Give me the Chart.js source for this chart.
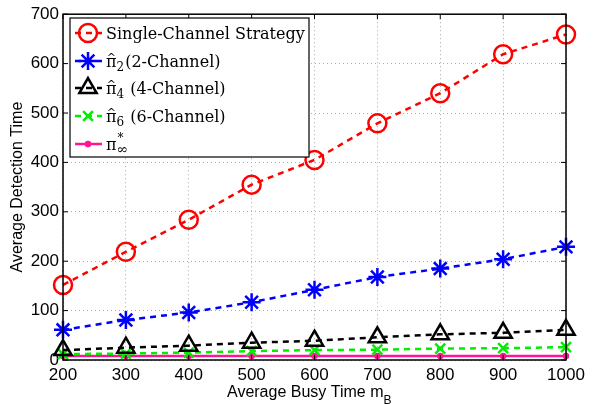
<!DOCTYPE html>
<html>
<head>
<meta charset="utf-8">
<script src="https://cdn.jsdelivr.net/npm/chart.js@4"></script>
<style>
  body { margin: 0; background: #fff; }
  #wrap { width: 594px; height: 404px; }
</style>
</head>
<body>
<div id="wrap"><canvas id="c" width="594" height="404"></canvas></div>
<script>
const busyTimes = [200, 300, 400, 500, 600, 700, 800, 900, 1000];
const singleChannel = [152, 219, 284, 355, 405, 479, 540, 619, 659];
const pi2 = [61, 81, 96, 117, 142, 168, 185, 204, 229];
const pi4 = [20, 25, 29, 35, 39, 46, 52, 55, 61];
const pi6 = [12, 13, 15, 18, 20, 21, 23, 24, 26];
const piInf = [8, 8, 8, 8, 8, 8, 8, 8, 8];
const yTicks = [0, 100, 200, 300, 400, 500, 600, 700];

// legend entries: main symbol, subscript, superscript, rest of text
const legendItems = [
  { text: "Single-Channel Strategy" },
  { sym: "π", hat: true, sub: "2", rest: "(2-Channel)" },
  { sym: "π", hat: true, sub: "4", rest: " (4-Channel)" },
  { sym: "π", hat: true, sub: "6", rest: " (6-Channel)" },
  { sym: "π", sup: "*", sub: "∞", rest: "" }
];

function pts(arr) { return busyTimes.map((x, i) => ({ x: x, y: arr[i] })); }

const sansFont = "'Liberation Sans', Arial, sans-serif";
const serifFont = "'DejaVu Serif', 'Liberation Serif', serif";

const datasets = [
  { label: "Single-Channel Strategy", data: pts(singleChannel), borderColor: "#ff0000", pointStyle: "circle", pointRadius: 9, borderDash: [6, 5] },
  { label: "pi2", data: pts(pi2), borderColor: "#0000ff", pointStyle: "star", pointRadius: 9, borderDash: [6, 5] },
  { label: "pi4", data: pts(pi4), borderColor: "#000000", pointStyle: "triangle", pointRadius: 10, borderDash: [6, 5] },
  { label: "pi6", data: pts(pi6), borderColor: "#00ee00", pointStyle: "crossRot", pointRadius: 7, borderDash: [6, 5] },
  { label: "piInf", data: pts(piInf), borderColor: "#ff1493", pointStyle: "circle", pointRadius: 2, borderDash: [] }
].map(d => Object.assign(d, {
  backgroundColor: "transparent",
  pointBackgroundColor: d.borderColor === "#ff1493" ? "#ff1493" : "transparent",
  pointBorderColor: d.borderColor,
  pointBorderWidth: 2.5,
  borderWidth: 2.5,
  tension: 0,
  fill: false,
  clip: false
}));

const frame = {
  id: "frame",
  afterDraw(chart) {
    const ctx = chart.ctx, a = chart.chartArea;
    const xs = chart.scales.x, ys = chart.scales.y;
    ctx.save();
    ctx.strokeStyle = "#000";
    ctx.lineWidth = 1.5;
    ctx.strokeRect(a.left, a.top, a.right - a.left, a.bottom - a.top);
    // inward ticks
    ctx.lineWidth = 1;
    busyTimes.forEach(v => {
      const x = xs.getPixelForValue(v);
      ctx.beginPath();
      ctx.moveTo(x, a.bottom); ctx.lineTo(x, a.bottom - 5);
      ctx.moveTo(x, a.top); ctx.lineTo(x, a.top + 5);
      ctx.stroke();
    });
    yTicks.forEach(v => {
      const y = ys.getPixelForValue(v);
      ctx.beginPath();
      ctx.moveTo(a.left, y); ctx.lineTo(a.left + 5, y);
      ctx.moveTo(a.right, y); ctx.lineTo(a.right - 5, y);
      ctx.stroke();
    });

    // x axis title with subscript
    ctx.fillStyle = "#000";
    ctx.textBaseline = "alphabetic";
    ctx.textAlign = "left";
    const main = "Average Busy Time m";
    ctx.font = "16px " + sansFont;
    const w1 = ctx.measureText(main).width;
    const x0 = 227;
    ctx.fillText(main, x0, 397);
    ctx.font = "12px " + sansFont;
    ctx.fillText("B", x0 + w1, 404);

    // legend
    const lx = 70, ly = 18, lw = 239, lh = 139;
    ctx.fillStyle = "#fff";
    ctx.fillRect(lx, ly, lw, lh);
    ctx.strokeStyle = "#000";
    ctx.lineWidth = 1.2;
    ctx.strokeRect(lx, ly, lw, lh);
    const rows = [33, 61, 88, 116, 144];
    chart.data.datasets.forEach((ds, i) => {
      const y = rows[i];
      ctx.save();
      ctx.strokeStyle = ds.borderColor;
      ctx.lineWidth = ds.borderWidth;
      ctx.setLineDash(ds.borderDash.length ? [6, 5] : []);
      ctx.beginPath();
      ctx.moveTo(75, y); ctx.lineTo(102, y);
      ctx.stroke();
      ctx.restore();
      ctx.save();
      ctx.strokeStyle = ds.pointBorderColor;
      ctx.fillStyle = ds.pointBackgroundColor;
      ctx.lineWidth = ds.pointBorderWidth;
      Chart.helpers.drawPoint(ctx, {
        pointStyle: ds.pointStyle, radius: ds.pointRadius, rotation: 0,
        borderWidth: ds.pointBorderWidth
      }, 88, y);
      ctx.restore();

      const it = legendItems[i];
      ctx.fillStyle = "#000";
      ctx.textAlign = "left";
      ctx.textBaseline = "alphabetic";
      let tx = 106;
      const base = y + 6;
      if (it.text) {
        ctx.font = "16px " + serifFont;
        ctx.fillText(it.text, tx, base);
        return;
      }
      ctx.font = "16px " + serifFont;
      ctx.fillText(it.sym, tx, base);
      const sw = ctx.measureText(it.sym).width;
      if (it.hat) {
        ctx.font = "11px " + serifFont;
        const hw = ctx.measureText("^").width;
        ctx.fillText("^", tx + sw / 2 - hw / 2, base - 6);
      }
      if (it.sup) {
        ctx.font = "12px " + serifFont;
        ctx.fillText(it.sup, tx + sw + 1, base - 8);
      }
      ctx.font = (it.sub === "∞" ? "14px " : "12px ") + serifFont;
      ctx.fillText(it.sub, tx + sw, base + 4);
      const subw = ctx.measureText(it.sub).width;
      tx += sw + subw + 1;
      ctx.font = "16px " + serifFont;
      ctx.fillText(it.rest, tx, base);
    });
    ctx.restore();
  }
};

new Chart(document.getElementById("c"), {
  type: "line",
  data: { datasets: datasets },
  plugins: [frame],
  options: {
    responsive: false,
    animation: false,
    layout: { padding: { left: 0, top: 14, right: 28, bottom: 0 } },
    plugins: {
      legend: { display: false },
      tooltip: { enabled: false }
    },
    scales: {
      x: {
        type: "linear",
        min: 200, max: 1000,
        afterFit(s) { s.height = 44; },
        afterBuildTicks(s) { s.ticks = busyTimes.map(v => ({ value: v })); },
        ticks: { color: "#000", font: { family: sansFont, size: 17 }, padding: 5, maxRotation: 0, callback: v => String(v) },
        grid: { color: "#aaa", lineWidth: 1, drawTicks: false },
        border: { display: false, dash: [1, 3] }
      },
      y: {
        min: 0, max: 700,
        afterFit(s) { s.width = 63; },
        afterBuildTicks(s) { s.ticks = yTicks.map(v => ({ value: v })); },
        ticks: { color: "#000", font: { family: sansFont, size: 17 }, padding: 4, callback: v => String(v) },
        grid: { color: "#aaa", lineWidth: 1, drawTicks: false },
        border: { display: false, dash: [1, 3] },
        title: { display: true, text: "Average Detection Time", color: "#000", font: { family: sansFont, size: 16 }, padding: { top: 8, bottom: 0 } }
      }
    }
  }
});
</script>
</body>
</html>
